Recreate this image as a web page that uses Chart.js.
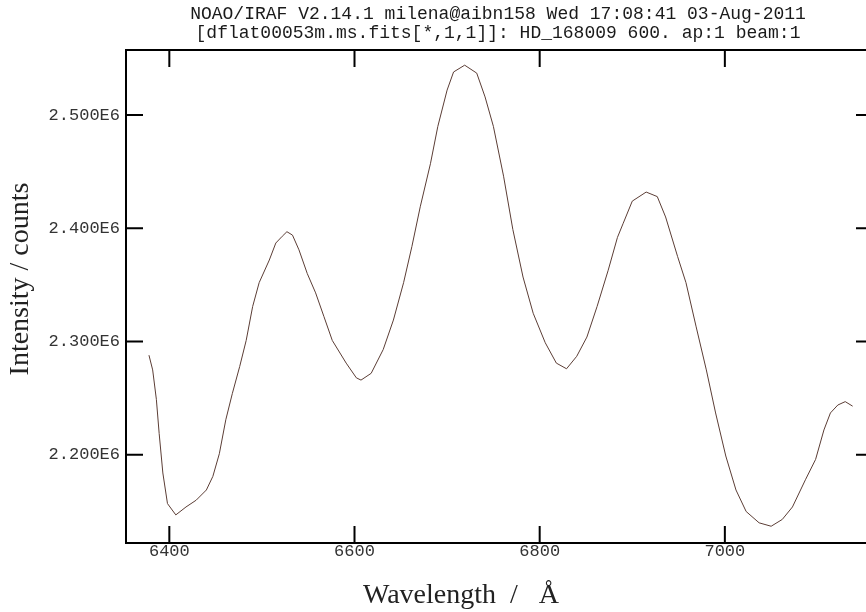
<!DOCTYPE html>
<html>
<head>
<meta charset="utf-8">
<script src="https://cdn.jsdelivr.net/npm/chart.js@4.4.1/dist/chart.umd.min.js"></script>
<style>
  html, body { margin: 0; padding: 0; background: #fff; overflow: hidden; }
  #wrap { width: 996px; height: 612px; }
</style>
</head>
<body>
<div id="wrap"><canvas id="espectro" width="996" height="612"></canvas></div>
<script>
// Datos (longitud de onda en Angstrom, intensidad en cuentas)
const longitudes = [6378, 6382, 6386, 6389, 6393, 6398, 6407, 6418, 6429, 6440,
  6447, 6454, 6461, 6468, 6476, 6483, 6490, 6497, 6508, 6515,
  6522, 6527, 6533, 6540, 6549, 6558, 6567, 6576, 6591, 6602,
  6607, 6618, 6631, 6642, 6653, 6662, 6671, 6682, 6690, 6700,
  6707, 6719, 6732, 6741, 6750, 6761, 6771, 6782, 6793, 6806,
  6818, 6829, 6840, 6851, 6862, 6874, 6884, 6890, 6900, 6915,
  6927, 6936, 6949, 6958, 6969, 6980, 6990, 7001, 7012, 7023,
  7037, 7050, 7062, 7073, 7087, 7098, 7107, 7114, 7122, 7130, 7138];

const intensidades = [2.288e6, 2.275e6, 2.249e6, 2.219e6, 2.184e6, 2.157e6, 2.147e6, 2.154e6, 2.160e6, 2.169e6,
  2.181e6, 2.201e6, 2.231e6, 2.254e6, 2.278e6, 2.301e6, 2.331e6, 2.352e6, 2.372e6, 2.387e6,
  2.393e6, 2.397e6, 2.394e6, 2.381e6, 2.360e6, 2.343e6, 2.322e6, 2.301e6, 2.281e6, 2.268e6,
  2.266e6, 2.272e6, 2.293e6, 2.319e6, 2.352e6, 2.384e6, 2.419e6, 2.457e6, 2.490e6, 2.522e6,
  2.538e6, 2.544e6, 2.537e6, 2.516e6, 2.490e6, 2.446e6, 2.399e6, 2.357e6, 2.325e6, 2.299e6,
  2.281e6, 2.276e6, 2.287e6, 2.304e6, 2.331e6, 2.363e6, 2.392e6, 2.404e6, 2.424e6, 2.432e6,
  2.428e6, 2.410e6, 2.375e6, 2.352e6, 2.313e6, 2.275e6, 2.237e6, 2.199e6, 2.169e6, 2.150e6,
  2.140e6, 2.137e6, 2.143e6, 2.154e6, 2.178e6, 2.196e6, 2.222e6, 2.237e6, 2.244e6, 2.247e6, 2.243e6];

// Marcas de los ejes
const marcasX = [6400, 6600, 6800, 7000];
const marcasY = [2.2e6, 2.3e6, 2.4e6, 2.5e6];

const tituloLineas = [
  'NOAO/IRAF V2.14.1 milena@aibn158 Wed 17:08:41 03-Aug-2011',
  '[dflat00053m.ms.fits[*,1,1]]: HD_168009 600. ap:1 beam:1'
];

const rangoX = [6353.2, 7160];
const rangoY = [2.1222e6, 2.5574e6];

// Marco y marcas hacia dentro en los cuatro lados (estilo IRAF)
const marcoIraf = {
  id: 'marcoIraf',
  afterDatasetsDraw(chart) {
    const { ctx, chartArea: a, scales: { x, y } } = chart;
    const largo = 17;
    ctx.save();
    ctx.strokeStyle = '#000';
    ctx.lineWidth = 2;
    ctx.beginPath();
    x.ticks.forEach((t, i) => {
      const px = x.getPixelForTick(i);
      ctx.moveTo(px, a.bottom); ctx.lineTo(px, a.bottom - largo);
      ctx.moveTo(px, a.top); ctx.lineTo(px, a.top + largo);
    });
    y.ticks.forEach((t, i) => {
      const py = y.getPixelForTick(i);
      ctx.moveTo(a.left, py); ctx.lineTo(a.left + largo, py);
      ctx.moveTo(a.right, py); ctx.lineTo(a.right - largo, py);
    });
    ctx.stroke();
    ctx.strokeRect(a.left, a.top, a.right - a.left, a.bottom - a.top);
    ctx.restore();
  }
};

const fuenteMono = { family: '"Liberation Mono", "DejaVu Sans Mono", monospace', size: 17 };
const fuenteSerif = { family: '"Liberation Serif", "DejaVu Serif", serif', size: 28 };

new Chart(document.getElementById('espectro'), {
  type: 'line',
  data: {
    datasets: [{
      label: 'HD_168009',
      data: longitudes.map((l, i) => ({ x: l, y: intensidades[i] })),
      borderColor: '#5b3d35',
      borderWidth: 1,
      pointRadius: 0,
      fill: false,
      tension: 0
    }]
  },
  plugins: [marcoIraf],
  options: {
    responsive: false,
    animation: false,
    devicePixelRatio: 1,
    layout: { padding: 0 },
    scales: {
      x: {
        type: 'linear',
        position: 'bottom',
        min: rangoX[0],
        max: rangoX[1],
        grid: { display: false, drawTicks: false },
        border: { display: false },
        afterBuildTicks: s => { s.ticks = marcasX.map(v => ({ value: v })); },
        ticks: {
          padding: -2,
          color: '#333',
          font: fuenteMono,
          maxRotation: 0,
          autoSkip: false,
          callback: v => String(v)
        },
        title: {
          display: true,
          text: 'Wavelength  /   Å' + '           ',
          color: '#222',
          font: fuenteSerif,
          padding: { top: 6, bottom: 0 }
        },
        afterFit: s => { s.height = 69; }
      },
      y: {
        type: 'linear',
        position: 'left',
        min: rangoY[0],
        max: rangoY[1],
        grid: { display: false, drawTicks: false },
        border: { display: false },
        afterBuildTicks: s => { s.ticks = marcasY.map(v => ({ value: v })); },
        ticks: {
          padding: 6,
          color: '#333',
          font: fuenteMono,
          autoSkip: false,
          callback: v => (v / 1e6).toFixed(3) + 'E6'
        },
        title: {
          display: true,
          text: '     Intensity / counts',
          color: '#222',
          font: fuenteSerif,
          padding: { top: 4, bottom: 0 }
        },
        afterFit: s => { s.width = 126; }
      },
      // eje derecho vacio: solo reserva el espacio fuera de la ventana
      yDer: {
        type: 'linear',
        position: 'right',
        min: rangoY[0],
        max: rangoY[1],
        grid: { display: false, drawTicks: false },
        border: { display: false },
        ticks: { display: false },
        afterFit: s => { s.width = 123; }
      }
    },
    plugins: {
      legend: { display: false },
      tooltip: { enabled: false },
      title: {
        display: true,
        text: tituloLineas,
        color: '#1a1a1a',
        font: { family: fuenteMono.family, size: 18, weight: 'normal', lineHeight: 19 / 18 },
        padding: { top: 5, bottom: 7 }
      }
    }
  }
});
</script>
</body>
</html>
